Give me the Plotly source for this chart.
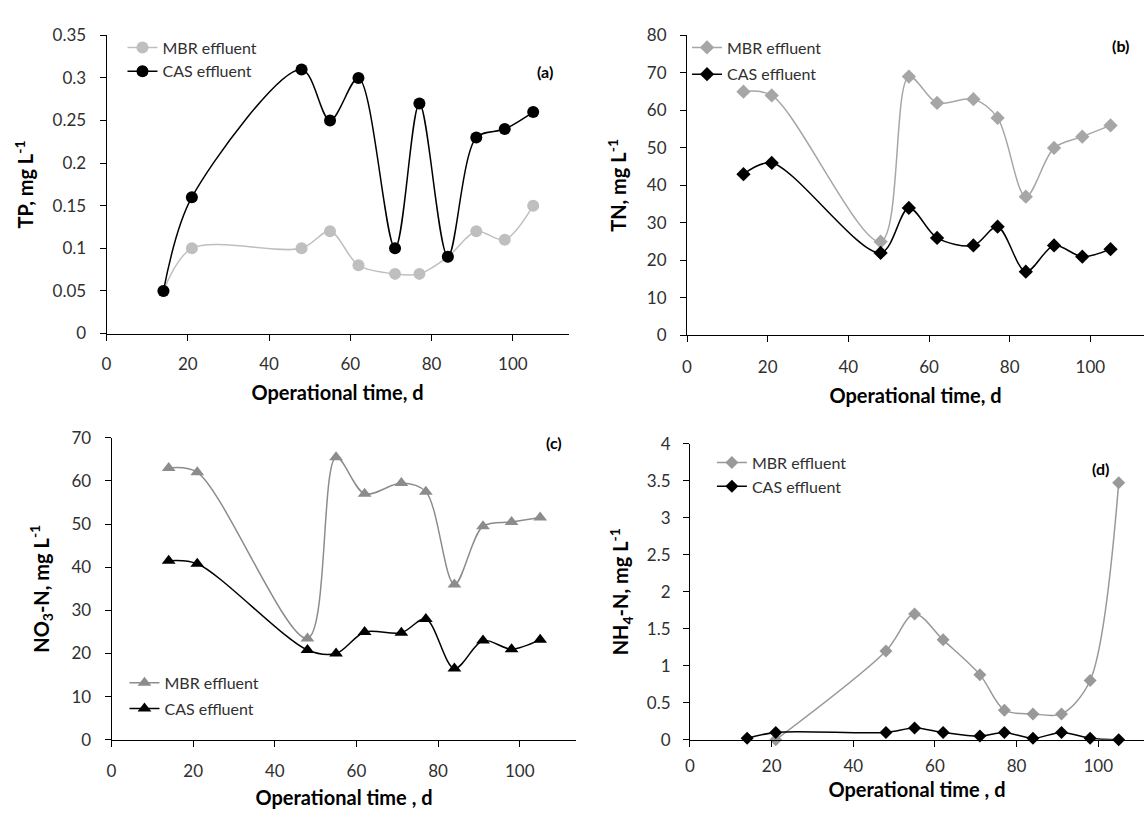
import plotly.graph_objects as go

# ---------------- data ----------------
days = [14, 21, 48, 55, 62, 71, 77, 84, 91, 98, 105]

tp_mbr = [0.05, 0.10, 0.10, 0.12, 0.08, 0.07, 0.07, 0.09, 0.12, 0.11, 0.15]
tp_cas = [0.05, 0.16, 0.31, 0.25, 0.30, 0.10, 0.27, 0.09, 0.23, 0.24, 0.26]

tn_mbr = [65, 64, 25, 69, 62, 63, 58, 37, 50, 53, 56]
tn_cas = [43, 46, 22, 34, 26, 24, 29, 17, 24, 21, 23]

no3_mbr = [63, 62, 23.5, 65.5, 57, 59.5, 57.5, 36, 49.5, 50.5, 51.5]
no3_cas = [41.5, 40.8, 20.8, 20, 25, 24.8, 28, 16.5, 23, 21, 23.2]

nh4_days_mbr = [21, 48, 55, 62, 71, 77, 84, 91, 98, 105]
nh4_mbr = [0.0, 1.2, 1.7, 1.35, 0.88, 0.4, 0.35, 0.35, 0.8, 3.47]
nh4_cas = [0.02, 0.1, 0.1, 0.16, 0.1, 0.05, 0.1, 0.02, 0.1, 0.02, 0.0]

series_names = ["MBR effluent", "CAS effluent"]
panel_labels = ["(a)", "(b)", "(c)", "(d)"]
y_titles = ["<b>TP, mg L<sup>-1</sup></b>", "<b>TN, mg L<sup>-1</sup></b>",
            "<b>NO<sub>3</sub>-N, mg L<sup>-1</sup></b>", "<b>NH<sub>4</sub>-N, mg L<sup>-1</sup></b>"]
x_titles = ["<b>Operational time, d</b>", "<b>Operational time, d</b>",
            "<b>Operational time , d</b>", "<b>Operational time , d</b>"]

W, H = 1144, 818
FONT = "Lato, 'Open Sans', sans-serif"
TICK_SIZE = 17
LEG_SIZE = 16
TITLE_SIZE = 20

fig = go.Figure()

panels = [
    dict(xm=days, ym=tp_mbr, xc=days, yc=tp_cas, sym="circle", cm="#bfbfbf", sm=12, sc=12),
    dict(xm=days, ym=tn_mbr, xc=days, yc=tn_cas, sym="diamond", cm="#a6a6a6", sm=11, sc=11),
    dict(xm=days, ym=no3_mbr, xc=days, yc=no3_cas, sym="triangle-up", cm="#8c8c8c", sm=12, sc=12),
    dict(xm=nh4_days_mbr, ym=nh4_mbr, xc=days, yc=nh4_cas, sym="diamond", cm="#999999", sm=10, sc=10),
]

for i, p in enumerate(panels):
    ax = "" if i == 0 else str(i + 1)
    leg = "legend" if i == 0 else f"legend{i+1}"
    fig.add_trace(go.Scatter(
        x=p["xm"], y=p["ym"], name=series_names[0], mode="lines+markers",
        line=dict(color=p["cm"], width=1.5, shape="spline", smoothing=0.9),
        marker=dict(symbol=p["sym"], size=p["sm"], color=p["cm"]),
        xaxis="x" + ax, yaxis="y" + ax, legend=leg, legendgroup=f"m{i}",
        cliponaxis=False))
    fig.add_trace(go.Scatter(
        x=p["xc"], y=p["yc"], name=series_names[1], mode="lines+markers",
        line=dict(color="black", width=1.5, shape="spline", smoothing=0.9),
        marker=dict(symbol=p["sym"], size=p["sc"], color="black"),
        xaxis="x" + ax, yaxis="y" + ax, legend=leg, legendgroup=f"c{i}",
        cliponaxis=False))

def px_x(v):
    return v / W

def px_y(v):
    return 1 - v / H

# axes geometry (pixels): (x0, x1, ytop, ybottom, xmax, ymax, dtick)
geo = [
    (102, 566, 25, 331, 113.7, 0.35, 0.05),
    (685, 1144, 25, 333, 113.3, 80, 10),
    (107, 574, 438, 748, 113.9, 70, 10),
    (688, 1144, 444, 748, 111.2, 4, 0.5),
]
x_lab_standoff = [9, 10, 10, 5]
x_standoff = [13, 13, 10, 7]
y_lab_standoff = [10, 10, 10, 9]
y_standoff = [13, 14, 16, 12]

axis_common = dict(showline=True, linecolor="black", linewidth=1, ticks="outside",
                   ticklen=6, tickcolor="black", showgrid=False, zeroline=False,
                   tickfont=dict(family=FONT, size=TICK_SIZE, color="#303030"))

layout = {}
for i, (x0, x1, yt, yb, xmax, ymax, dt) in enumerate(geo):
    ax = "" if i == 0 else str(i + 1)
    layout["xaxis" + ax] = dict(
        domain=[px_x(x0), min(px_x(x1), 1.0)], range=[0, xmax], dtick=20, tick0=0,
        anchor="y" + ax, ticklabelstandoff=x_lab_standoff[i],
        title=dict(text=x_titles[i], font=dict(family=FONT, size=TITLE_SIZE, color="black"),
                   standoff=x_standoff[i]),
        **axis_common)
    layout["yaxis" + ax] = dict(
        domain=[px_y(yb), px_y(yt)], range=[0, ymax], dtick=dt, tick0=0,
        anchor="x" + ax, ticklabelstandoff=y_lab_standoff[i],
        title=dict(text=y_titles[i], font=dict(family=FONT, size=TITLE_SIZE, color="black"),
                   standoff=y_standoff[i]),
        **axis_common)

# (left px, top px, tracegroupgap)
leg_pos = [(118, 20, 0), (685, 20, 3), (120, 672, 2), (710, 446, 0)]
for i, (lx, ly, gap) in enumerate(leg_pos):
    key = "legend" if i == 0 else f"legend{i+1}"
    layout[key] = dict(x=px_x(lx), y=px_y(ly), xanchor="left", yanchor="top",
                       bgcolor="rgba(0,0,0,0)",
                       font=dict(family=FONT, size=LEG_SIZE, color="#303030"),
                       tracegroupgap=gap, itemclick=False)

label_pos = [(542, 62), (1120, 35), (551, 443), (1100, 470)]
annotations = []
for i, (lx, ly) in enumerate(label_pos):
    annotations.append(dict(text=f"<b>{panel_labels[i]}</b>", x=px_x(lx), y=px_y(ly),
                            xref="paper", yref="paper", xanchor="center", yanchor="middle",
                            showarrow=False,
                            font=dict(family=FONT, size=16, color="black")))

fig.update_layout(width=W, height=H, margin=dict(l=0, r=0, t=0, b=0),
                  plot_bgcolor="white", paper_bgcolor="white",
                  font=dict(family=FONT), showlegend=True,
                  annotations=annotations, **layout)

fig.write_html("out.html", config={"displayModeBar": False},
               post_script="document.body.style.margin='0';")
